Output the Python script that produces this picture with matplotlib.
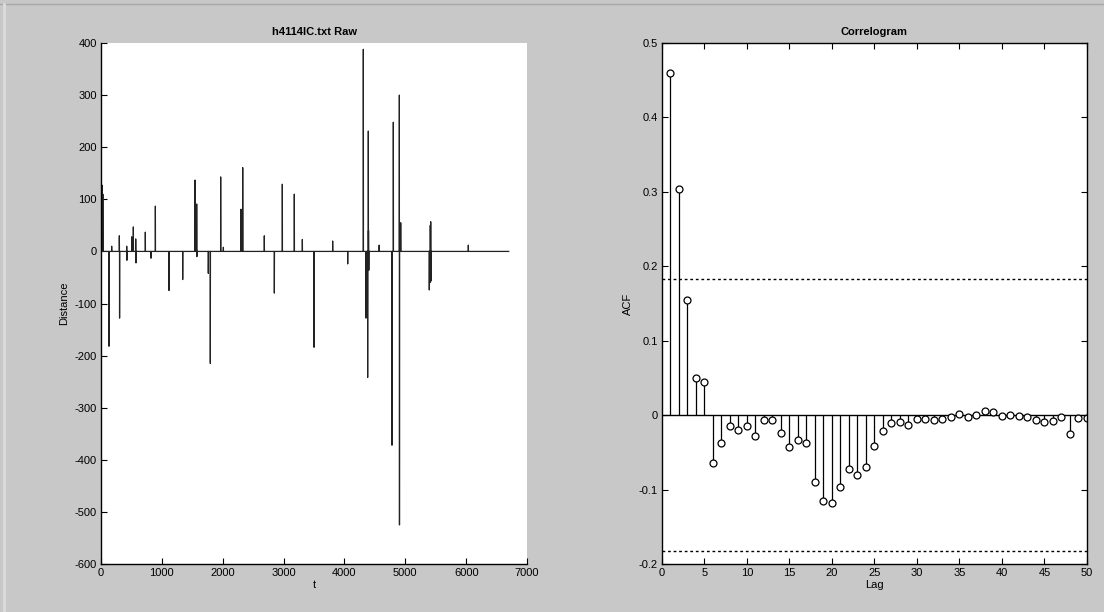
import numpy as np
import matplotlib
matplotlib.use("Agg")
import matplotlib.pyplot as plt
from matplotlib.ticker import FuncFormatter
from matplotlib.lines import Line2D

plt.rcParams['font.family'] = ['Liberation Sans', 'DejaVu Sans']
plt.rcParams['font.size'] = 8

# raw distance record: zero everywhere except these spikes
n_samples = 6700
spike_t = [20, 30, 131, 175, 301, 305, 422, 425, 504, 531, 570, 575, 728, 821,
           893, 1117, 1342, 1544, 1572, 1575, 1763, 1796, 1966, 2010, 2300, 2328,
           2683, 2848, 2979, 3176, 3308, 3500, 3806, 4053, 4310, 4354, 4381, 4392,
           4395, 4400, 4570, 4781, 4803, 4902, 4904, 4924, 5394, 5405, 5410, 5417,
           5420, 6035]
spike_val = [127, 110, -182, 10, 30, -128, 10, -17, 28, 47, 24, -22, 37, -13,
             87, -75, -54, 137, 91, -10, -42, -215, 143, 8, 81, 161,
             30, -80, 129, 110, 23, -184, 20, -24, 388, -128, -242, 231,
             40, -36, 12, -372, 248, 300, -525, 55, -74, -60, 50, 57,
             -57, 12]

# autocorrelation at lags 1..50
lags = list(range(1, 51))
acf = [0.460, 0.304, 0.155, 0.050, 0.045, -0.064, -0.038, -0.015, -0.020, -0.015,
       -0.028, -0.007, -0.007, -0.024, -0.043, -0.034, -0.038, -0.090, -0.116, -0.118,
       -0.097, -0.072, -0.080, -0.069, -0.042, -0.021, -0.011, -0.009, -0.013, -0.005,
       -0.005, -0.006, -0.005, -0.002, 0.001, -0.002, 0.000, 0.005, 0.004, -0.001,
       0.000, -0.001, -0.003, -0.006, -0.009, -0.008, -0.003, -0.025, -0.004, -0.004]
conf_bound = 0.183

t = np.arange(n_samples)
distance = np.zeros(n_samples)
distance[spike_t] = spike_val

bg = '#c8c8c8'
fig = plt.figure(figsize=(11.04, 6.12), dpi=100, facecolor=bg)
# window frame edges
fig.add_artist(Line2D([0, 1], [0.993, 0.993], color='#a8a8a8', lw=1))
fig.add_artist(Line2D([0.004, 0.004], [0, 0.993], color='#dcdcdc', lw=2))

fmt = FuncFormatter(lambda v, p: '%g' % round(v, 6))

# left: raw series
ax1 = fig.add_axes([0.0915, 0.0784, 0.3859, 0.8513])
ax1.plot(t, distance, color='#222222', lw=0.9)
ax1.set_xlim(0, 7000)
ax1.set_ylim(-600, 400)
ax1.set_xticks(range(0, 7001, 1000))
ax1.set_yticks(range(-600, 401, 100))
ax1.yaxis.set_major_formatter(fmt)
ax1.spines['top'].set_visible(False)
ax1.spines['right'].set_visible(False)
ax1.set_title('h4114IC.txt Raw', fontweight='bold', fontsize=8, pad=6)
ax1.set_xlabel('t', labelpad=1)
ax1.set_ylabel('Distance', labelpad=4)

# right: correlogram
ax2 = fig.add_axes([0.5996, 0.0784, 0.3850, 0.8513])
ax2.axhline(0, color='k', lw=1)
ml, sl, bl = ax2.stem(lags, acf, linefmt='k-', markerfmt='ko', basefmt=' ')
sl.set_linewidth(0.9)
ml.set_markerfacecolor('white')
ml.set_markersize(5)
ml.set_markeredgewidth(0.9)
ax2.axhline(conf_bound, color='k', lw=1, ls=(0, (2, 2)))
ax2.axhline(-conf_bound, color='k', lw=1, ls=(0, (2, 2)))
ax2.set_xlim(0, 50)
ax2.set_ylim(-0.2, 0.5)
ax2.set_xticks(range(0, 51, 5))
ax2.set_yticks(np.arange(-0.2, 0.51, 0.1))
ax2.yaxis.set_major_formatter(fmt)
ax2.tick_params(top=True, right=True)
ax2.set_title('Correlogram', fontweight='bold', fontsize=8, pad=6)
ax2.set_xlabel('Lag', labelpad=1)
ax2.set_ylabel('ACF', labelpad=4)

for ax in (ax1, ax2):
    ax.set_facecolor('white')
    ax.tick_params(direction='in', length=4, width=0.8, pad=3, labelsize=8)
    for s in ax.spines.values():
        s.set_linewidth(1.0)

fig.savefig('out.png', dpi=100, facecolor=bg)
